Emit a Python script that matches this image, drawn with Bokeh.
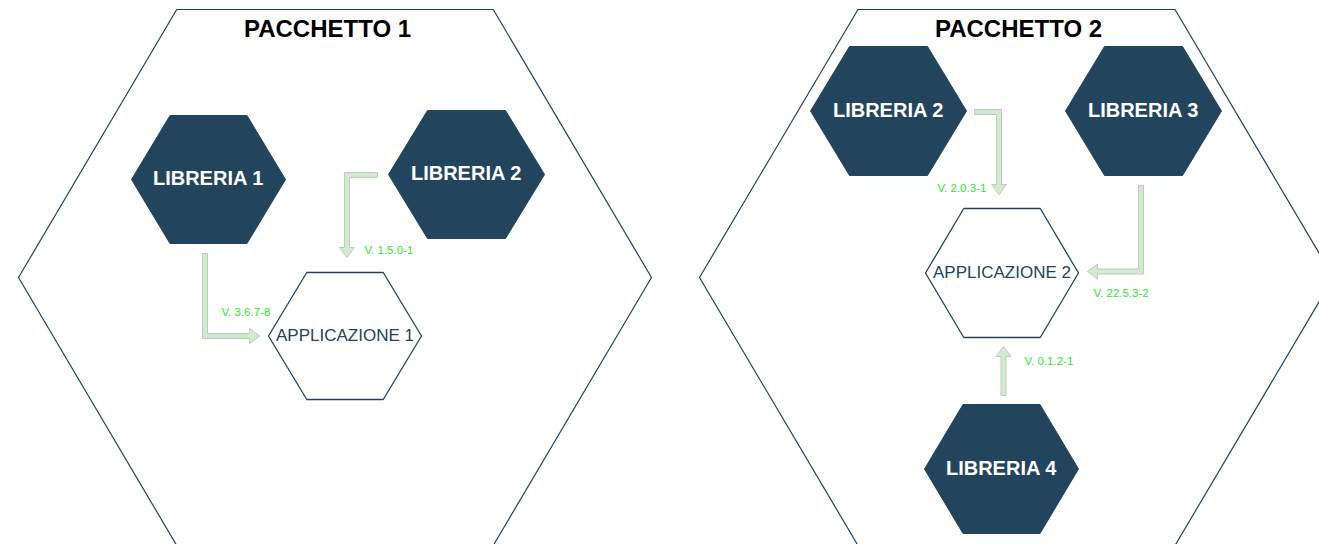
from bokeh.plotting import figure
from bokeh.models import Range1d
from bokeh.embed import file_html
from bokeh.resources import INLINE
from bokeh.core.properties import value

# ---- packages (outer hexagons) ----
pkg_names = ["PACCHETTO 1", "PACCHETTO 2"]
pkg_cx = [334.5, 1016.0]
pkg_cy = [277.0, 277.0]
pkg_hw = [316.5, 317.0]
pkg_hh = [268.0, 268.0]
pkg_title_x = [327.0, 1018.0]
pkg_title_y = [28.0, 28.0]

# ---- libraries (dark hexagons) ----
lib_names = ["LIBRERIA 1", "LIBRERIA 2", "LIBRERIA 2", "LIBRERIA 3", "LIBRERIA 4"]
lib_cx = [208.0, 466.0, 888.0, 1143.0, 1001.0]
lib_cy = [179.0, 174.0, 110.5, 110.5, 468.5]
lib_hw = [77.0, 78.0, 78.0, 78.0, 77.0]
lib_hh = [64.0, 64.0, 64.5, 64.5, 64.5]

# ---- applications (white hexagons) ----
app_names = ["APPLICAZIONE 1", "APPLICAZIONE 2"]
app_cx = [344.5, 1001.5]
app_cy = [335.5, 272.5]
app_hw = [76.5, 76.5]
app_hh = [63.5, 64.5]

# ---- dependency arrows (orthogonal paths, last point = tip) ----
arrow_paths = [
    [(204.5, 253.0), (204.5, 335.5), (259.0, 335.5)],
    [(377.0, 174.5), (346.5, 174.5), (346.5, 257.0)],
    [(974.0, 111.5), (998.5, 111.5), (998.5, 194.0)],
    [(1140.5, 185.0), (1140.5, 271.0), (1087.0, 271.0)],
    [(1003.0, 395.0), (1003.0, 346.0)],
]
version_labels = ["V. 3.6.7-8", "V. 1.5.0-1", "V. 2.0.3-1", "V. 22.5.3-2", "V. 0.1.2-1"]
label_x = [221.0, 364.0, 937.0, 1093.0, 1024.0]
label_y = [311.0, 249.0, 187.0, 292.0, 360.0]

DARK = "#23445D"


def hexagon(cx, cy, hw, hh):
    xs = [cx - hw, cx - hw / 2, cx + hw / 2, cx + hw, cx + hw / 2, cx - hw / 2]
    ys = [cy, cy - hh, cy - hh, cy, cy + hh, cy + hh]
    return xs, ys


def flex_arrow(pts, shaft=5.0, head=15.0, head_len=10.0):
    h = shaft / 2.0
    H = head / 2.0
    dirs = []
    for (x0, y0), (x1, y1) in zip(pts[:-1], pts[1:]):
        L = ((x1 - x0) ** 2 + (y1 - y0) ** 2) ** 0.5
        dirs.append(((x1 - x0) / L, (y1 - y0) / L))
    norms = [(-dy, dx) for dx, dy in dirs]
    left, right = [], []
    p0 = pts[0]
    left.append((p0[0] + norms[0][0] * h, p0[1] + norms[0][1] * h))
    right.append((p0[0] - norms[0][0] * h, p0[1] - norms[0][1] * h))
    for i in range(1, len(pts) - 1):
        nx = norms[i - 1][0] + norms[i][0]
        ny = norms[i - 1][1] + norms[i][1]
        left.append((pts[i][0] + nx * h, pts[i][1] + ny * h))
        right.append((pts[i][0] - nx * h, pts[i][1] - ny * h))
    tip = pts[-1]
    d = dirs[-1]
    n = norms[-1]
    bx, by = tip[0] - d[0] * head_len, tip[1] - d[1] * head_len
    outline = list(left)
    outline.append((bx + n[0] * h, by + n[1] * h))
    outline.append((bx + n[0] * H, by + n[1] * H))
    outline.append(tip)
    outline.append((bx - n[0] * H, by - n[1] * H))
    outline.append((bx - n[0] * h, by - n[1] * h))
    outline.extend(reversed(right))
    return [q[0] for q in outline], [q[1] for q in outline]


p = figure(width=1319, height=544, output_backend="svg", toolbar_location=None,
           x_range=Range1d(0, 1319), y_range=Range1d(544, 0),
           min_border=0)
p.axis.visible = False
p.grid.visible = False
p.outline_line_color = None
p.background_fill_color = "white"
p.border_fill_color = "white"

# outer package hexagons
pk = [hexagon(*a) for a in zip(pkg_cx, pkg_cy, pkg_hw, pkg_hh)]
p.patches(xs=[a[0] for a in pk], ys=[a[1] for a in pk], fill_color="white",
          line_color=DARK, line_width=1.2)
p.text(x=pkg_title_x, y=pkg_title_y, text=pkg_names, text_align="center",
       text_baseline="middle", text_font=value("Liberation Sans"),
       text_font_style="bold", text_font_size="24px", text_color="black")

# libraries
lb = [hexagon(*a) for a in zip(lib_cx, lib_cy, lib_hw, lib_hh)]
p.patches(xs=[a[0] for a in lb], ys=[a[1] for a in lb], fill_color=DARK,
          line_color=DARK, line_width=1)
p.text(x=lib_cx, y=lib_cy, text=lib_names, text_align="center",
       text_baseline="middle", text_font=value("Liberation Sans"),
       text_font_style="bold", text_font_size="20px", text_color="white",
       y_offset=-1.5)

# applications
ap = [hexagon(*a) for a in zip(app_cx, app_cy, app_hw, app_hh)]
p.patches(xs=[a[0] for a in ap], ys=[a[1] for a in ap], fill_color="white",
          line_color=DARK, line_width=1.3)
p.text(x=app_cx, y=app_cy, text=app_names, text_align="center",
       text_baseline="middle", text_font=value("Liberation Sans"),
       text_font_size="17px", text_color=DARK, y_offset=-1)

# arrows
ar = [flex_arrow(path) for path in arrow_paths]
p.patches(xs=[a[0] for a in ar], ys=[a[1] for a in ar], fill_color="#d5e8d4",
          line_color="#b5d3ae", line_width=1)
p.text(x=label_x, y=label_y, text=version_labels, text_align="left",
       text_baseline="middle", text_font=value("Liberation Sans"),
       text_font_size="11.5px", text_color="#2ee82e")

open("out.html", "w").write(file_html(p, INLINE))
